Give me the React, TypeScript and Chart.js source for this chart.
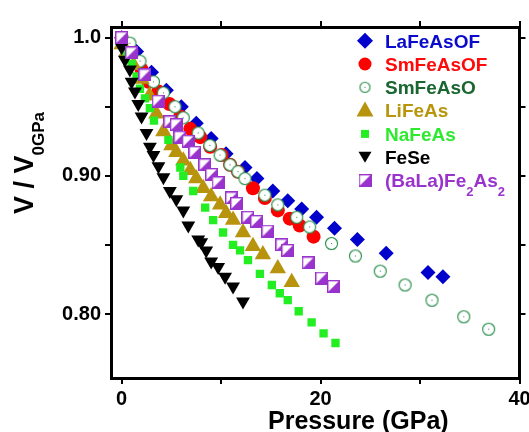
import React, { useEffect, useRef } from 'react';
import { Chart, registerables } from 'chart.js';

Chart.register(...registerables);

// ---- axis ticks ----
const X_TICKS = [0, 10, 20, 30, 40];
const X_TICK_LABELS = ['0', '', '20', '', '40'];
const Y_TICKS = [0.8, 0.85, 0.9, 0.95, 1.0];
const Y_TICK_LABELS = ['0.80', '', '0.90', '', '1.0'];
const X_MIN = -1.07;
const X_MAX = 40;
const Y_MIN = 0.7537;
const Y_MAX = 1.0077;

// ---- series (pressure in GPa, V/V0) ----
const LAFEASOF_P = [0, 1.5, 3, 4.5, 6, 7.5, 9, 10.5, 12.4, 13.6, 15.2, 16.7, 18.1, 19.6, 21.4, 23.7, 26.6, 30.8, 32.3];
const LAFEASOF_V = [1.0, 0.99, 0.975, 0.962, 0.95, 0.938, 0.927, 0.916, 0.906, 0.898, 0.889, 0.882, 0.876, 0.87, 0.862, 0.854, 0.844, 0.83, 0.827];

const SMFEASOF_P = [0, 1, 2, 2.7, 3.7, 4.8, 5.9, 6.9, 7.9, 8.9, 10.05, 10.9, 11.7, 13.2, 14.4, 15.7, 16.9, 17.9, 19.3];
const SMFEASOF_V = [1.0, 0.99, 0.977, 0.968, 0.961, 0.952, 0.943, 0.934, 0.928, 0.921, 0.915, 0.908, 0.903, 0.891, 0.884, 0.875, 0.869, 0.864, 0.856];

const SMFEASO_P = [0, 0.83, 1.84, 3.2, 4.2, 5.36, 6.2, 7.7, 8.87, 9.9, 10.9, 11.7, 12.4, 14.4, 15.7, 17.6, 18.9, 21.1, 23.5, 26.0, 28.5, 31.2, 34.4, 36.9];
const SMFEASO_V = [1.0, 0.996, 0.983, 0.968, 0.96, 0.95, 0.942, 0.931, 0.922, 0.915, 0.908, 0.903, 0.898, 0.886, 0.879, 0.87, 0.863, 0.851, 0.842, 0.831, 0.821, 0.81, 0.798, 0.789];

const LIFEAS_P = [0, 0.5, 1.2, 2, 2.8, 3.5, 4.2, 5.0, 5.5, 6.2, 6.9, 7.5, 8.2, 9.0, 9.9, 10.5, 11.2, 12.2, 13.2, 14.2, 15.7, 17.1];
const LIFEAS_V = [0.995, 0.99, 0.98, 0.97, 0.958, 0.945, 0.932, 0.922, 0.917, 0.911, 0.904, 0.898, 0.891, 0.885, 0.879, 0.873, 0.868, 0.859, 0.849, 0.843, 0.833, 0.823];

const NAFEAS_P = [0, 0.5, 1.0, 1.5, 1.84, 2.34, 2.84, 3.25, 4.7, 5.9, 6.2, 7.2, 8.4, 9.2, 10.2, 11.2, 11.9, 12.7, 13.9, 15.1, 15.9, 16.7, 17.8, 19.1, 20.3, 21.5];
const NAFEAS_V = [0.997, 0.99, 0.981, 0.972, 0.963, 0.956, 0.949, 0.94, 0.926, 0.906, 0.9, 0.889, 0.877, 0.868, 0.859, 0.85, 0.846, 0.839, 0.829, 0.821, 0.815, 0.81, 0.802, 0.794, 0.786, 0.779];

const FESE_P = [0, 0.33, 0.83, 1.0, 1.34, 1.67, 2.0, 2.5, 2.84, 3.2, 3.7, 4.2, 4.85, 5.5, 6.2, 6.7, 7.7, 8.0, 8.5, 9.0, 9.7, 10.4, 11.2, 12.2];
const FESE_V = [0.993, 0.984, 0.977, 0.968, 0.961, 0.952, 0.943, 0.931, 0.921, 0.915, 0.907, 0.899, 0.889, 0.883, 0.875, 0.864, 0.854, 0.852, 0.846, 0.838, 0.834, 0.827, 0.82, 0.809];

const BALAFE2AS2_P = [0, 1.0, 2.34, 3.68, 4.85, 5.5, 5.86, 6.7, 7.37, 8.37, 9.05, 9.7, 11.05, 11.56, 12.7, 13.57, 14.7, 16.1, 16.7, 18.75, 20.1, 21.3];
const BALAFE2AS2_V = [1.0, 0.989, 0.973, 0.954, 0.939, 0.937, 0.928, 0.925, 0.917, 0.908, 0.901, 0.895, 0.884, 0.88, 0.87, 0.867, 0.86, 0.85, 0.846, 0.837, 0.826, 0.82];

const SERIES_NAMES = ['LaFeAsOF', 'SmFeAsOF', 'SmFeAsO', 'LiFeAs', 'NaFeAs', 'FeSe', '(BaLa)Fe_2As_2'];

const FONT = '"Liberation Sans", Arial, Helvetica, sans-serif';

function toXY(p: number[], v: number[]) {
  return p.map((x, i) => ({ x, y: v[i] }));
}

function makeHalfSquare(size: number, color: string) {
  const c = document.createElement('canvas');
  c.width = size;
  c.height = size;
  const g = c.getContext('2d')!;
  g.fillStyle = '#ffffff';
  g.fillRect(0, 0, size, size);
  g.fillStyle = color;
  g.beginPath();
  g.moveTo(size, 0);
  g.lineTo(size, size);
  g.lineTo(0, size);
  g.closePath();
  g.fill();
  g.strokeStyle = color;
  g.lineWidth = 1.4;
  g.strokeRect(0.7, 0.7, size - 1.4, size - 1.4);
  return c;
}

function makeOpenCircle(size: number, radius: number, color: string) {
  const c = document.createElement('canvas');
  c.width = size;
  c.height = size;
  const g = c.getContext('2d')!;
  g.beginPath();
  g.arc(size / 2, size / 2, radius, 0, Math.PI * 2);
  g.fillStyle = '#ffffff';
  g.fill();
  g.strokeStyle = color;
  g.lineWidth = 1.1;
  g.stroke();
  g.fillStyle = color;
  g.fillRect(size / 2 - 0.5, size / 2 - 0.5, 1, 1);
  return c;
}

const LEGEND_COLORS = ['#0a0acc', '#ff0a0a', '#1a6630', '#b8960c', '#2eea2e', '#000000', '#9933cc'];

function drawLegend(chart: any, purpleImg: HTMLCanvasElement, circleImg: HTMLCanvasElement) {
  const ctx: CanvasRenderingContext2D = chart.ctx;
  const mx = 365;
  const tx = 385;
  const y0 = 40.7;
  const dy = 23.3;
  ctx.save();
  for (let i = 0; i < SERIES_NAMES.length; i++) {
    const cy = y0 + i * dy;
    ctx.beginPath();
    if (i === 0) {
      ctx.fillStyle = '#0000cc';
      ctx.moveTo(mx, cy - 8);
      ctx.lineTo(mx + 8, cy);
      ctx.lineTo(mx, cy + 8);
      ctx.lineTo(mx - 8, cy);
      ctx.closePath();
      ctx.fill();
    } else if (i === 1) {
      ctx.fillStyle = '#ff0000';
      ctx.arc(mx, cy, 6.5, 0, Math.PI * 2);
      ctx.fill();
    } else if (i === 2) {
      ctx.drawImage(circleImg, mx - circleImg.width / 2, cy - circleImg.height / 2);
    } else if (i === 3) {
      ctx.fillStyle = '#b8940e';
      ctx.moveTo(mx, cy - 9);
      ctx.lineTo(mx + 8.5, cy + 6);
      ctx.lineTo(mx - 8.5, cy + 6);
      ctx.closePath();
      ctx.fill();
    } else if (i === 4) {
      ctx.fillStyle = '#22ee22';
      ctx.fillRect(mx - 4, cy - 4, 8, 8);
    } else if (i === 5) {
      ctx.fillStyle = '#000000';
      ctx.moveTo(mx - 6.5, cy - 5.5);
      ctx.lineTo(mx + 6.5, cy - 5.5);
      ctx.lineTo(mx, cy + 5.5);
      ctx.closePath();
      ctx.fill();
    } else {
      ctx.drawImage(purpleImg, mx - purpleImg.width / 2, cy - purpleImg.height / 2);
    }
    // text with subscripts
    const parts = SERIES_NAMES[i].split('_');
    let x = tx;
    const base = cy + 6.8;
    ctx.fillStyle = LEGEND_COLORS[i];
    ctx.textAlign = 'left';
    ctx.textBaseline = 'alphabetic';
    parts.forEach((part, k) => {
      let rest = part;
      if (k > 0) {
        const sub = part.charAt(0);
        rest = part.slice(1);
        ctx.font = 'bold 13px ' + FONT;
        ctx.fillText(sub, x, base + 9);
        x += ctx.measureText(sub).width;
      }
      ctx.font = 'bold 19px ' + FONT;
      ctx.fillText(rest, x, base);
      x += ctx.measureText(rest).width;
    });
  }
  ctx.restore();
}

function drawAxisTitles(chart: any) {
  const ctx: CanvasRenderingContext2D = chart.ctx;
  ctx.save();
  ctx.fillStyle = '#000';
  ctx.textAlign = 'left';
  ctx.textBaseline = 'alphabetic';
  ctx.font = 'bold 25px ' + FONT;
  ctx.fillText('Pressure (GPa)', 268, 429);

  ctx.translate(33, 214);
  ctx.rotate(-Math.PI / 2);
  ctx.font = 'bold 27px ' + FONT;
  const main = 'V / V';
  ctx.fillText(main, 0, 0);
  const w = ctx.measureText(main).width;
  ctx.font = 'bold 17px ' + FONT;
  ctx.fillText('0GPa', w, 11);
  ctx.restore();
}

export default function App() {
  const ref = useRef<HTMLCanvasElement | null>(null);

  useEffect(() => {
    if (!ref.current) return;
    const purpleImg = makeHalfSquare(13, '#9933cc');
    const circleImg = makeOpenCircle(15, 6, '#228b45');
    const legendCircle = makeOpenCircle(13, 5, '#228b45');

    const tickFont = { family: FONT, size: 20, weight: 'bold' as const };
    const gridCommon = {
      display: true,
      drawOnChartArea: false,
      drawTicks: true,
      tickLength: 6,
      tickWidth: 2,
      lineWidth: 2,
      tickColor: '#000',
      color: '#000',
    };
    const border = { display: true, width: 3, color: '#000' };

    const xTicksBuild = (s: any) => {
      s.ticks = X_TICKS.map((v) => ({ value: v }));
    };
    const yTicksBuild = (s: any) => {
      s.ticks = Y_TICKS.map((v) => ({ value: v }));
    };

    const overlay = {
      id: 'overlay',
      afterDraw(chart: any) {
        drawAxisTitles(chart);
        drawLegend(chart, purpleImg, legendCircle);
      },
    };

    const chart = new Chart(ref.current, {
      type: 'scatter',
      data: {
        datasets: [
          {
            label: SERIES_NAMES[0],
            data: toXY(LAFEASOF_P, LAFEASOF_V),
            pointStyle: 'rectRot',
            pointRadius: 7.5,
            backgroundColor: '#0000cc',
            borderColor: '#0000cc',
            borderWidth: 0,
            order: 6,
          },
          {
            label: SERIES_NAMES[1],
            data: toXY(SMFEASOF_P, SMFEASOF_V),
            pointStyle: 'circle',
            pointRadius: 7,
            backgroundColor: '#ff0000',
            borderColor: '#ff0000',
            borderWidth: 0,
            order: 5,
          },
          {
            label: SERIES_NAMES[2],
            data: toXY(SMFEASO_P, SMFEASO_V),
            pointStyle: circleImg,
            pointRadius: 6,
            order: 4,
          },
          {
            label: SERIES_NAMES[3],
            data: toXY(LIFEAS_P, LIFEAS_V),
            pointStyle: 'triangle',
            pointRadius: 9.5,
            backgroundColor: '#b8940e',
            borderColor: '#b8940e',
            borderWidth: 0,
            order: 3,
          },
          {
            label: SERIES_NAMES[4],
            data: toXY(NAFEAS_P, NAFEAS_V),
            pointStyle: 'rect',
            pointRadius: 5.9,
            backgroundColor: '#22ee22',
            borderColor: '#22ee22',
            borderWidth: 0,
            order: 2,
          },
          {
            label: SERIES_NAMES[5],
            data: toXY(FESE_P, FESE_V),
            pointStyle: 'triangle',
            rotation: 180,
            pointRadius: 8,
            backgroundColor: '#000000',
            borderColor: '#000000',
            borderWidth: 0,
            order: 1,
          },
          {
            label: SERIES_NAMES[6],
            data: toXY(BALAFE2AS2_P, BALAFE2AS2_V),
            pointStyle: purpleImg,
            pointRadius: 6.5,
            order: 0,
          },
        ],
      },
      options: {
        animation: false,
        responsive: false,
        events: [],
        layout: { padding: 0 },
        plugins: {
          legend: { display: false },
          tooltip: { enabled: false },
          title: { display: false },
        },
        scales: {
          x: {
            type: 'linear',
            position: 'bottom',
            min: X_MIN,
            max: X_MAX,
            afterBuildTicks: xTicksBuild,
            ticks: {
              autoSkip: false,
              maxRotation: 0,
              padding: 3,
              color: '#000',
              font: tickFont,
              callback: (v: any) => X_TICK_LABELS[X_TICKS.indexOf(v)] ?? '',
            },
            grid: gridCommon,
            border,
            afterFit: (s: any) => {
              s.height = 54;
              s.paddingLeft = 0;
              s.paddingRight = 0;
            },
          },
          x2: {
            type: 'linear',
            position: 'top',
            min: X_MIN,
            max: X_MAX,
            afterBuildTicks: xTicksBuild,
            ticks: { autoSkip: false, maxRotation: 0, callback: () => '' },
            grid: gridCommon,
            border,
            afterFit: (s: any) => {
              s.height = 27;
              s.paddingLeft = 0;
              s.paddingRight = 0;
            },
          },
          y: {
            type: 'linear',
            position: 'left',
            min: Y_MIN,
            max: Y_MAX,
            afterBuildTicks: yTicksBuild,
            ticks: {
              autoSkip: false,
              padding: 4,
              color: '#000',
              font: tickFont,
              callback: (v: any) => Y_TICK_LABELS[Y_TICKS.indexOf(v)] ?? '',
            },
            grid: gridCommon,
            border,
            afterFit: (s: any) => {
              s.width = 111;
              s.paddingTop = 0;
              s.paddingBottom = 0;
            },
          },
          y2: {
            type: 'linear',
            position: 'right',
            min: Y_MIN,
            max: Y_MAX,
            afterBuildTicks: yTicksBuild,
            ticks: { autoSkip: false, callback: () => '' },
            grid: gridCommon,
            border,
            afterFit: (s: any) => {
              s.width = 9;
              s.paddingTop = 0;
              s.paddingBottom = 0;
            },
          },
        },
      },
      plugins: [overlay],
    } as any);

    return () => chart.destroy();
  }, []);

  return (
    <div style={{ position: 'absolute', left: 0, top: 0, width: 529, height: 432, background: '#fff' }}>
      <canvas ref={ref} width={529} height={432} style={{ display: 'block', width: 529, height: 432 }} />
    </div>
  );
}
